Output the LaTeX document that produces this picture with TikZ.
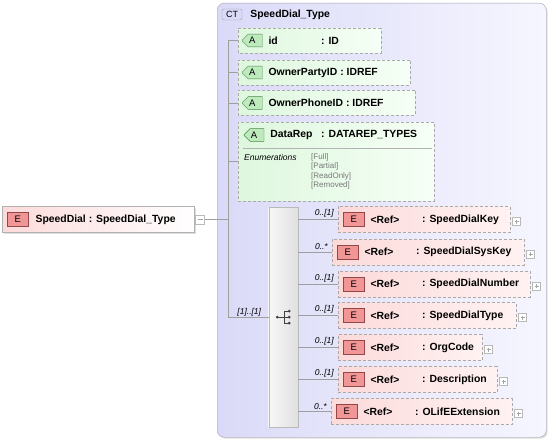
\documentclass[tikz,border=0pt]{standalone}
\usepackage{fontspec}
\setmainfont{Liberation Sans}
\usetikzlibrary{shapes.misc,positioning,calc,shadows}

\definecolor{ctleft}{RGB}{218,218,248}
\definecolor{ctright}{RGB}{246,246,255}
\definecolor{ctline}{RGB}{160,160,175}
\definecolor{dashline}{RGB}{170,170,170}
\definecolor{elleft}{RGB}{252,218,218}
\definecolor{elright}{RGB}{255,242,242}
\definecolor{etagfill}{RGB}{240,150,150}
\definecolor{etagline}{RGB}{150,70,70}
\definecolor{attrleft}{RGB}{222,247,222}
\definecolor{attrright}{RGB}{246,255,246}
\definecolor{atagfill}{RGB}{190,234,190}
\definecolor{atagline}{RGB}{70,140,70}
\definecolor{enumgray}{RGB}{120,120,120}

\begin{document}
\begin{tikzpicture}[x=1pt, y=-1pt,
    % frames
    ctframe/.style={
        draw=ctline,
        rounded corners=7pt,
        left color=ctleft,
        right color=ctright,
        anchor=north west,
        drop shadow={shadow xshift=1.5pt, shadow yshift=-1.5pt, opacity=0.25}
    },
    cttag/.style={
        draw=ctline,
        fill=ctleft,
        rounded corners=2pt,
        minimum width=20pt,
        minimum height=11pt,
        inner sep=0pt,
        font=\fontsize{9}{10}\selectfont
    },
    mainbox/.style={
        draw=gray!60,
        left color=elleft,
        right color=white,
        minimum height=26pt,
        inner sep=0pt,
        anchor=west,
        drop shadow={shadow xshift=1.5pt, shadow yshift=-1.5pt, opacity=0.25}
    },
    elbox/.style={
        draw=dashline,
        dash pattern=on 3pt off 2pt,
        left color=elleft,
        right color=elright,
        minimum height=26pt,
        inner sep=0pt,
        anchor=west
    },
    etag/.style={
        draw=etagline,
        fill=etagfill,
        minimum width=21pt,
        minimum height=14pt,
        inner sep=0pt,
        font=\fontsize{9.5}{10}\selectfont
    },
    attrbox/.style={
        chamfered rectangle,
        chamfered rectangle corners={north west,south west},
        chamfered rectangle xsep=4pt,
        draw=dashline,
        dash pattern=on 3pt off 2pt,
        left color=attrleft,
        right color=attrright,
        minimum height=25pt,
        inner sep=0pt,
        anchor=west
    },
    atag/.style={
        chamfered rectangle,
        chamfered rectangle corners={north west,south west},
        chamfered rectangle xsep=3pt,
        draw=atagline,
        fill=atagfill,
        minimum width=20pt,
        minimum height=11pt,
        inner sep=0pt,
        font=\fontsize{9.5}{10}\selectfont
    },
    seqbox/.style={
        draw=gray!55,
        left color=gray!6,
        right color=gray!24,
        minimum width=29pt,
        minimum height=220pt,
        inner sep=0pt,
        anchor=north west,
        drop shadow={shadow xshift=1pt, shadow yshift=-1pt, opacity=0.2}
    },
    label/.style={inner sep=0pt, anchor=west, font=\fontsize{10.4}{12}\selectfont\bfseries},
    card/.style={inner sep=0pt, font=\fontsize{8.5}{10}\selectfont\itshape},
    enum/.style={inner sep=0pt, anchor=west, font=\fontsize{8}{9}\selectfont},
    plusbox/.style={
        draw=gray!55, fill=white, minimum size=8pt, inner sep=0pt,
        path picture={\draw[gray!70, line width=0.5pt]
            ([xshift=2pt]path picture bounding box.west) -- ([xshift=-2pt]path picture bounding box.east)
            ([yshift=-2pt]path picture bounding box.north) -- ([yshift=2pt]path picture bounding box.south);}
    },
    minusbox/.style={
        draw=gray!55, fill=white, minimum size=9pt, inner sep=0pt,
        path picture={\draw[gray!70, line width=0.5pt]
            ([xshift=2pt]path picture bounding box.west) -- ([xshift=-2pt]path picture bounding box.east);}
    },
    link/.style={draw=gray!75, line width=0.6pt}
]
\useasboundingbox (0,0) rectangle (549,441);

% Complex type frame
\node[ctframe, minimum width=329pt, minimum height=434pt] (ct) at (217,3) {};
\node[cttag] (cttag) at (232,14.5) {CT};
\node[label, right=8pt of cttag] (cttitle) {SpeedDial\_Type};

% Root element
\node[mainbox, minimum width=192pt] (main) at (2,219.5) {};
\node[etag, right=5pt of main.west] (maintag) {E};
\node[label, right=7pt of maintag] (mainlabel) {SpeedDial : SpeedDial\_Type};
\node[minusbox, right=1pt of main] (mainminus) {};

% Attributes
\node[attrbox, minimum width=143pt] (id) at (238,40.5) {};
\node[atag, right=4pt of id.west] (idtag) {A};
\node[label, right=6pt of idtag] {id};
\node[label, right=83pt of id.west] {: ID};

\node[attrbox, minimum width=172pt] (partyid) at (238,72.5) {};
\node[atag, right=4pt of partyid.west] (partytag) {A};
\node[label, right=6pt of partytag] {OwnerPartyID : IDREF};

\node[attrbox, minimum width=177pt] (phoneid) at (238,103) {};
\node[atag, right=4pt of phoneid.west] (phonetag) {A};
\node[label, right=6pt of phonetag] {OwnerPhoneID : IDREF};

\node[attrbox, minimum width=196pt, minimum height=79pt] (datarep) at (238,161.5) {};
\node[atag] (reptag) at (254,135) {A};
\node[label, right=6pt of reptag] {DataRep};
\node[label] at (321,135) {: DATAREP\_TYPES};
\draw[gray!60] (243,148) -- (432,148);
\node[enum, font=\fontsize{8.5}{10}\selectfont\itshape] (enumhead) at (244,157) {Enumerations};
\node[enum, text=enumgray] (full) at (311,157) {[Full]};
\node[enum, text=enumgray] (partial) at (311,166.5) {[Partial]};
\node[enum, text=enumgray] (readonly) at (311,176) {[ReadOnly]};
\node[enum, text=enumgray] (removed) at (311,185.5) {[Removed]};

% Sequence
\node[seqbox] (seq) at (268.5,207) {};
\coordinate (fork) at (228,0);
\fill[black!75] ($(seq.center)+(-6,0)$) circle (1.5pt);
\draw[black!75, line width=0.7pt] ($(seq.center)+(-6,0)$) -- ($(seq.center)+(6,0)$)
    ($(seq.center)+(1,-6)$) -- ($(seq.center)+(1,6)$)
    ($(seq.center)+(1,-6)$) -- ($(seq.center)+(6,-6)$)
    ($(seq.center)+(1,6)$) -- ($(seq.center)+(6,6)$);
\fill[black!75] ($(seq.center)+(6,-6)$) circle (1.5pt) ($(seq.center)+(6,0)$) circle (1.5pt) ($(seq.center)+(6,6)$) circle (1.5pt);

% Child elements
\node[elbox, minimum width=172pt] (key) at (338,219.5) {};
\node[etag, right=5pt of key.west] (keytag) {E};
\node[label, right=6pt of keytag] {<Ref>};
\node[label, right=84pt of key.west] {: SpeedDialKey};
\node[plusbox, right=2pt of key, yshift=-2pt] (keyplus) {};

\node[elbox, minimum width=192pt] (syskey) at (332,252) {};
\node[etag, right=5pt of syskey.west] (systag) {E};
\node[label, right=6pt of systag] {<Ref>};
\node[label, right=84pt of syskey.west] {: SpeedDialSysKey};
\node[plusbox, right=2pt of syskey, yshift=-2pt] (sysplus) {};

\node[elbox, minimum width=192pt] (number) at (338,284) {};
\node[etag, right=5pt of number.west] (numtag) {E};
\node[label, right=6pt of numtag] {<Ref>};
\node[label, right=84pt of number.west] {: SpeedDialNumber};
\node[plusbox, right=2pt of number, yshift=-2pt] (numplus) {};

\node[elbox, minimum width=178pt] (dialtype) at (338,315.5) {};
\node[etag, right=5pt of dialtype.west] (typetag) {E};
\node[label, right=6pt of typetag] {<Ref>};
\node[label, right=84pt of dialtype.west] {: SpeedDialType};
\node[plusbox, right=2pt of dialtype, yshift=-2pt] (typeplus) {};

\node[elbox, minimum width=144pt] (orgcode) at (338,347.5) {};
\node[etag, right=5pt of orgcode.west] (orgtag) {E};
\node[label, right=6pt of orgtag] {<Ref>};
\node[label, right=84pt of orgcode.west] {: OrgCode};
\node[plusbox, right=2pt of orgcode, yshift=-2pt] (orgplus) {};

\node[elbox, minimum width=159pt] (descr) at (338,379.5) {};
\node[etag, right=5pt of descr.west] (descrtag) {E};
\node[label, right=6pt of descrtag] {<Ref>};
\node[label, right=84pt of descr.west] {: Description};
\node[plusbox, right=2pt of descr, yshift=-2pt] (descrplus) {};

\node[elbox, minimum width=181pt] (extension) at (331,411.5) {};
\node[etag, right=5pt of extension.west] (exttag) {E};
\node[label, right=6pt of exttag] {<Ref>};
\node[label, right=84pt of extension.west] {: OLifEExtension};
\node[plusbox, right=2pt of extension, yshift=-2pt] (extplus) {};

% Connectors
\draw[link] (id.west -| fork) -- (seq.west -| fork);
\draw[link] (mainminus.east) -- (mainminus.east -| fork);
\draw[link] (id.west -| fork) -- (id.west);
\draw[link] (partyid.west -| fork) -- (partyid.west);
\draw[link] (phoneid.west -| fork) -- (phoneid.west);
\draw[link] (datarep.west -| fork) -- (datarep.west);
\draw[link] (seq.west -| fork) -- node[card, above, xshift=1pt, yshift=1pt] {[1]..[1]} (seq.west);
\draw[link] (seq.east |- key.west) -- (key.west);
\draw[link] (seq.east |- syskey.west) -- (syskey.west);
\draw[link] (seq.east |- number.west) -- (number.west);
\draw[link] (seq.east |- dialtype.west) -- (dialtype.west);
\draw[link] (seq.east |- orgcode.west) -- (orgcode.west);
\draw[link] (seq.east |- descr.west) -- (descr.west);
\draw[link] (seq.east |- extension.west) -- (extension.west);

% Occurrences
\node[card, above left=2pt and 4pt of key.west] {0..[1]};
\node[card, above left=2pt and 4pt of syskey.west] {0..*};
\node[card, above left=2pt and 4pt of number.west] {0..[1]};
\node[card, above left=2pt and 4pt of dialtype.west] {0..[1]};
\node[card, above left=2pt and 4pt of orgcode.west] {0..[1]};
\node[card, above left=2pt and 4pt of descr.west] {0..[1]};
\node[card, above left=2pt and 4pt of extension.west] {0..*};

\end{tikzpicture}
\end{document}
